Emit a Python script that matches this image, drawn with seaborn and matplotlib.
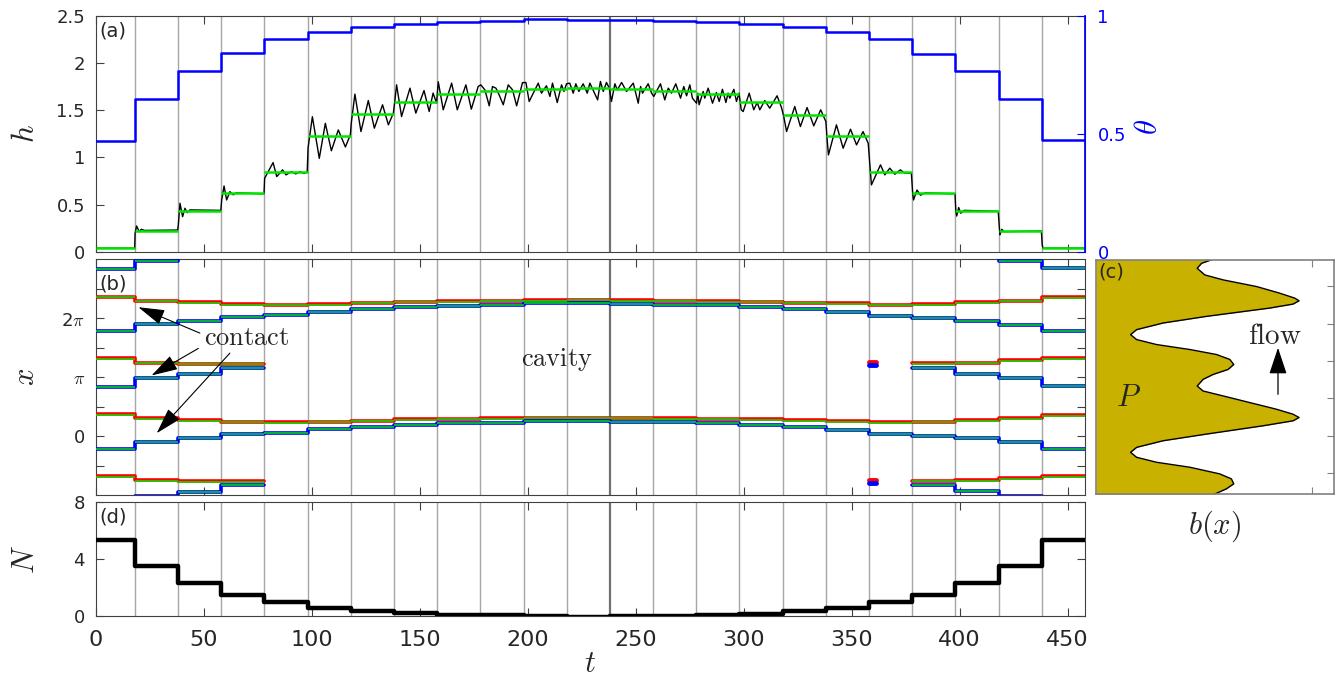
import matplotlib
matplotlib.use("Agg")
import matplotlib.pyplot as plt
import numpy as np
import seaborn as sns

PI = np.pi

# ---------------- data ----------------
seg_edges = [0, 18, 38, 58, 78, 98, 118, 138, 158, 178, 198, 218, 238,
             258, 278, 298, 318, 338, 358, 378, 398, 418, 438, 458]

# (a) mean film height per step (green) and theta (blue, right axis)
h_mean = [0.046, 0.225, 0.437, 0.628, 0.85, 1.228, 1.457, 1.59, 1.665, 1.707, 1.725, 1.732,
          1.725, 1.707, 1.665, 1.59, 1.453, 1.228, 0.85, 0.628, 0.437, 0.225, 0.046]
theta = [0.47, 0.649, 0.766, 0.84, 0.90, 0.932, 0.95, 0.964, 0.972, 0.976, 0.984, 0.982,
         0.982, 0.976, 0.972, 0.965, 0.952, 0.932, 0.90, 0.838, 0.766, 0.648, 0.472]

# (a) instantaneous h (black), read at extrema
t_h = [0, 17.9,
       18.1, 18.8, 20.0, 21.0, 22.5, 37.8,
       38.1, 38.9, 40.1, 41.2, 42.2, 43.5, 57.8,
       58.2, 59.3, 60.5, 62.0, 63.5, 65.0, 77.8,
       78.1, 82.0, 83.7, 86.4, 88.0, 90.5, 92.5, 94.5, 96.3, 97.8,
       98.2, 100.2, 103.4, 106.2, 109.0, 112.2, 115.5, 117.8,
       118.2, 119.9, 122.7, 126.1, 128.9, 132.7, 135.4, 137.7,
       138.4, 139.2, 141.5, 145.4, 148.1, 151.9, 154.3, 156.1, 157.7,
       158.5, 160.8, 164.7, 167.3, 171.3, 173.8, 177.0,
       178.2, 180.1, 182.1, 183.6, 185.2, 186.7, 188.6, 190.9, 192.9, 194.8, 197.5,
       199.1, 200.6, 204.8, 206.3, 208.6, 210.2, 211.4, 213.6, 215.6, 216.7, 217.9,
       219.4, 221.0, 222.2, 223.6, 225.6, 227.5, 228.7, 232.3, 233.6, 234.9, 236.4, 237.7,
       238.7, 240.3, 241.4, 243.4, 245.7, 248.8, 251.1, 252.2, 253.1, 255.7, 257.3,
       258.3, 261.4, 263.4, 265.0, 266.5, 268.5, 270.7, 272.2, 273.5, 275.0, 276.2, 278.1,
       278.7, 279.3, 281.2, 281.9, 283.5, 285.5, 287.3, 288.6, 290.1, 291.7, 292.7, 293.5,
       295.4, 296.6, 297.8,
       298.8, 299.7, 302.5, 304.6, 306.2, 307.4, 309.7, 312.0, 315.4, 317.4,
       318.5, 319.8, 323.6, 326.2, 329.3, 332.4, 335.6, 338.0,
       338.6, 339.2, 342.9, 346.0, 349.4, 352.2, 355.2, 357.6,
       358.3, 359.1, 363.3, 365.3, 367.6, 369.9, 372.5, 374.5, 377.6,
       378.2, 378.6, 380.2, 381.8, 384.0, 397.8,
       398.2, 398.6, 399.5, 400.5, 402.0, 417.8,
       418.2, 418.6, 419.5, 420.5, 437.8,
       438.2, 438.6, 458.0]
h_black = [0.04, 0.04,
           0.20, 0.275, 0.215, 0.24, 0.228, 0.232,
           0.28, 0.515, 0.373, 0.462, 0.416, 0.445, 0.44,
           0.55, 0.698, 0.55, 0.638, 0.605, 0.625, 0.615,
           0.78, 0.945, 0.797, 0.868, 0.815, 0.85, 0.825, 0.85, 0.83, 0.845,
           1.10, 1.43, 0.99, 1.36, 1.07, 1.29, 1.11, 1.24,
           1.36, 1.669, 1.273, 1.601, 1.309, 1.556, 1.344, 1.468,
           1.60, 1.767, 1.432, 1.732, 1.468, 1.707, 1.485, 1.68, 1.574,
           1.80, 1.503, 1.785, 1.503, 1.767, 1.51, 1.75,
           1.767, 1.714, 1.545, 1.749, 1.732, 1.661, 1.556, 1.767, 1.714, 1.545, 1.79,
           1.792, 1.591, 1.785, 1.679, 1.757, 1.644, 1.785, 1.58, 1.767, 1.697, 1.778,
           1.785, 1.679, 1.778, 1.697, 1.778, 1.679, 1.785, 1.608, 1.803, 1.697, 1.792, 1.732,
           1.591, 1.778, 1.714, 1.792, 1.697, 1.785, 1.573, 1.749, 1.679, 1.778, 1.679,
           1.644, 1.778, 1.608, 1.732, 1.679, 1.778, 1.626, 1.749, 1.651, 1.767, 1.626, 1.573,
           1.679, 1.556, 1.697, 1.626, 1.732, 1.573, 1.686, 1.591, 1.72, 1.58, 1.679, 1.626,
           1.72, 1.591, 1.679,
           1.503, 1.485, 1.679, 1.503, 1.58, 1.503, 1.601, 1.52, 1.651, 1.531,
           1.432, 1.273, 1.538, 1.326, 1.527, 1.333, 1.503, 1.379,
           1.185, 1.026, 1.344, 1.097, 1.298, 1.132, 1.273, 1.15,
           0.938, 0.709, 0.921, 0.815, 0.886, 0.822, 0.868, 0.833, 0.833,
           0.62, 0.55, 0.655, 0.60, 0.625, 0.615,
           0.43, 0.38, 0.47, 0.41, 0.44, 0.43,
           0.30, 0.18, 0.24, 0.215, 0.222,
           0.07, 0.04, 0.04]

# (b) contact line positions per step, in units of pi (NaN = contact absent)
nan = np.nan
c1_red = [0.368, 0.30, 0.27, 0.243, 0.232, 0.243, 0.265, 0.283, 0.293, 0.30, 0.31, 0.316,
          0.31, 0.30, 0.293, 0.283, 0.266, 0.254, 0.232, 0.243, 0.27, 0.30, 0.36]
c1_blue = [-0.22, -0.097, -0.04, 0.03, 0.056, 0.113, 0.158, 0.19, 0.215, 0.225, 0.254, 0.26,
           0.243, 0.232, 0.22, 0.186, 0.152, 0.10, 0.04, 0.005, -0.04, -0.107, -0.21]
c2_red = [1.32, 1.25, 1.23, 1.23] + [nan] * 15 + [1.24, 1.25, 1.29, 1.32]
c2_blue = [0.835, 0.98, 1.05, 1.165] + [nan] * 15 + [1.165, 1.06, 0.98, 0.85]
c2_onset_t = [358.0, 361.0]
c2_onset_red = [1.26, 1.26]
c2_onset_blue = [1.21, 1.21]

# (d) number of drops per step
N_drops = [5.33, 3.5, 2.32, 1.52, 0.99, 0.62, 0.41, 0.22, 0.13, 0.08, 0.06, -0.03,
           0.04, 0.05, 0.09, 0.17, 0.36, 0.59, 0.99, 1.5, 2.32, 3.5, 5.33]

# (c) substrate profile b(x)
b_x = [9.42, 9.231, 8.965, 8.610, 8.344, 7.989, 7.634, 7.368, 7.226, 7.048, 6.835, 6.391,
       6.037, 5.682, 5.415, 5.149, 4.883, 4.617, 4.350, 4.084, 3.818, 3.552, 3.285, 3.019,
       2.664, 2.398, 2.132, 1.777, 1.422, 1.155, 0.978, 0.800, 0.534, 0.091, -0.265, -0.619,
       -0.886, -1.152, -1.418, -1.684, -2.039, -2.306, -2.572, -2.838, -3.1416]
b_val = [0.534, 0.488, 0.468, 0.503, 0.588, 0.742, 0.849, 0.919, 0.939, 0.911, 0.803, 0.511,
         0.311, 0.188, 0.160, 0.188, 0.280, 0.434, 0.557, 0.619, 0.637, 0.611, 0.542, 0.495,
         0.468, 0.495, 0.588, 0.711, 0.834, 0.911, 0.939, 0.911, 0.772, 0.511, 0.311, 0.188,
         0.160, 0.188, 0.280, 0.434, 0.572, 0.626, 0.637, 0.603, 0.545]

t_ticks = [0, 50, 100, 150, 200, 250, 300, 350, 400, 450]


def ext(v):
    return list(v) + [v[-1]]


# ---------------- style ----------------
sns.set_theme(style="ticks")
plt.rcParams["font.family"] = ["DejaVu Sans"]
plt.rcParams["mathtext.fontset"] = "cm"
SPINE = "#404040"
GRID = "#a6a6a6"
GREEN = "#00e600"
GOLD = "#c9b100"

fig = plt.figure(figsize=(13.39, 6.77), dpi=100)
ax_a = fig.add_axes([0.0717, 0.6278, 0.7386, 0.3493])
ax_b = fig.add_axes([0.0717, 0.2688, 0.7386, 0.3479])
ax_d = fig.add_axes([0.0717, 0.0894, 0.7386, 0.1691])
ax_c = fig.add_axes([0.8185, 0.2696, 0.1777, 0.3468])


def separators(ax):
    for e in seg_edges[1:-1]:
        if e == 238:
            ax.axvline(e, color="#707070", lw=1.6, zorder=1)
        else:
            ax.axvline(e, color=GRID, lw=1.0, zorder=1)


def style_main(ax, bottom_labels=False):
    ax.set_xlim(0, 458)
    ax.set_xticks(t_ticks)
    ax.tick_params(axis="both", direction="in", top=True, length=6, width=0.8,
                   color=SPINE, labelcolor="#262626")
    ax.tick_params(axis="y", labelsize=13, pad=8)
    ax.tick_params(axis="x", labelsize=16, pad=10, labelbottom=bottom_labels)
    for s in ax.spines.values():
        s.set_color(SPINE)
        s.set_linewidth(0.8)


# ---------------- (a) ----------------
separators(ax_a)
sns.lineplot(x=t_h, y=h_black, ax=ax_a, color="black", lw=1.0, estimator=None, sort=False, zorder=2)
ax_a.hlines(h_mean, seg_edges[:-1], seg_edges[1:], colors=GREEN, lw=1.8, zorder=3)
style_main(ax_a)
ax_a.tick_params(axis="y", right=False)
ax_a.set_ylim(0, 2.5)
ax_a.set_yticks([0, 0.5, 1, 1.5, 2, 2.5])
ax_a.set_yticklabels(["0", "0.5", "1", "1.5", "2", "2.5"])
ax_a.set_ylabel("$h$", fontsize=22)
ax_a.yaxis.set_label_coords(-0.057, 0.5)
ax_a.text(0.003, 0.975, "(a)", transform=ax_a.transAxes, fontsize=14, ha="left", va="top")

ax_t = ax_a.twinx()
sns.lineplot(x=seg_edges, y=ext(theta), ax=ax_t, drawstyle="steps-post", color="blue", lw=1.8,
             estimator=None, sort=False)
ax_t.set_xlim(0, 458)
ax_t.set_ylim(0, 1)
ax_t.set_yticks([0, 0.5, 1])
ax_t.set_yticklabels(["0", "0.5", "1"])
ax_t.tick_params(axis="y", direction="in", length=6, width=0.8, colors="blue", labelsize=13, pad=9)
ax_t.spines["right"].set_color("blue")
for s in ["top", "left", "bottom"]:
    ax_t.spines[s].set_visible(False)
ax_t.set_ylabel(r"$\theta$", fontsize=22, color="blue")
ax_t.yaxis.set_label_coords(1.05, 0.53)
ax_t.set_xlabel("")

# ---------------- (b) ----------------
separators(ax_b)
edges = np.array(seg_edges)
for shift in (-2, 0, 2):
    for red, blue in ((c1_red, c1_blue), (c2_red, c2_blue)):
        r = (np.array(ext(red)) + shift) * PI
        b = (np.array(ext(blue)) + shift) * PI
        ax_b.step(edges, r, where="post", color="red", lw=2.6, zorder=3)
        ax_b.step(edges, b, where="post", color="blue", lw=2.6, zorder=4)
        ax_b.hlines(r[:-1] - 0.03, edges[:-1], edges[1:], colors=GREEN, lw=1.1, zorder=5)
        ax_b.hlines(b[:-1], edges[:-1], edges[1:], colors=GREEN, lw=1.1, zorder=5)
    ax_b.plot(c2_onset_t, (np.array(c2_onset_red) + shift) * PI, color="red", lw=3.5, zorder=3)
    ax_b.plot(c2_onset_t, (np.array(c2_onset_blue) + shift) * PI, color="blue", lw=3.5, zorder=4)
style_main(ax_b)
ax_b.tick_params(axis="y", right=True)
ax_b.set_ylim(-PI, 3 * PI)
ax_b.set_yticks([-PI / 2, 0, PI / 2, PI, 3 * PI / 2, 2 * PI, 5 * PI / 2])
ax_b.set_yticklabels(["", "0", "", r"$\pi$", "", r"2$\pi$", ""])
ax_b.set_ylabel("$x$", fontsize=22)
ax_b.yaxis.set_label_coords(-0.057, 0.5)
ax_b.text(0.003, 0.935, "(b)", transform=ax_b.transAxes, fontsize=14, ha="left", va="top")
ax_b.text(69.8, 1.66 * PI, r"$\mathrm{contact}$", fontsize=19, ha="center", va="center")
ax_b.text(213.5, 1.30 * PI, r"$\mathrm{cavity}$", fontsize=19, ha="center", va="center")
arrow_kw = dict(arrowstyle="-|>,head_length=0.75,head_width=0.22", color="black", lw=0.8,
                mutation_scale=22, shrinkA=0, shrinkB=0)
for head, tail in (((19.6, 2.19 * PI), (48.1, 1.75 * PI)),
                   ((25.7, 1.03 * PI), (47.4, 1.49 * PI)),
                   ((28.1, 0.05 * PI), (62.0, 1.41 * PI))):
    ax_b.annotate("", xy=head, xytext=tail, arrowprops=arrow_kw, zorder=6)

# ---------------- (d) ----------------
separators(ax_d)
sns.lineplot(x=seg_edges, y=ext(N_drops), ax=ax_d, drawstyle="steps-post", color="black", lw=3.2,
             estimator=None, sort=False, zorder=3)
style_main(ax_d, bottom_labels=True)
ax_d.tick_params(axis="y", right=True)
ax_d.set_ylim(0, 8)
ax_d.set_yticks([0, 4, 8])
ax_d.set_yticklabels(["0", "4", "8"])
ax_d.set_xticklabels([str(v) for v in t_ticks])
ax_d.set_ylabel("$N$", fontsize=22)
ax_d.yaxis.set_label_coords(-0.057, 0.5)
ax_d.set_xlabel("$t$", fontsize=22)
ax_d.xaxis.set_label_coords(0.5, -0.28)
ax_d.text(0.003, 0.955, "(d)", transform=ax_d.transAxes, fontsize=14, ha="left", va="top")

# ---------------- (c) ----------------
ax_c.fill_betweenx(b_x, 0, b_val, color=GOLD, lw=0, zorder=1)
ax_c.plot(b_val, b_x, color="black", lw=1.0, zorder=2)
ax_c.set_xlim(0, 1.1)
ax_c.set_ylim(-PI, 3 * PI)
ax_c.set_xticks([1.0])
ax_c.set_yticks([-2, 0, 2, 4, 6, 8])
ax_c.tick_params(axis="both", direction="in", length=5, width=0.8, color="#808080",
                 top=True, right=True, left=False, labelleft=False, labelbottom=False)
for s in ax_c.spines.values():
    s.set_color("#808080")
    s.set_linewidth(1.2)
ax_c.set_xlabel("$b(x)$", fontsize=22)
ax_c.xaxis.set_label_coords(0.5, -0.06)
ax_c.text(0.008, 0.99, "(c)", transform=ax_c.transAxes, fontsize=14, ha="left", va="top")
ax_c.text(0.149, 2.04, "$P$", fontsize=22, ha="center", va="center")
ax_c.text(0.826, 5.32, r"$\mathrm{flow}$", fontsize=21, ha="center", va="center")
ax_c.annotate("", xy=(0.8415, 4.71), xytext=(0.8415, 2.22),
              arrowprops=dict(arrowstyle="-|>,head_length=0.75,head_width=0.25", color="black",
                              lw=0.9, mutation_scale=22, shrinkA=0, shrinkB=0))

fig.savefig("out.png", dpi=100)
